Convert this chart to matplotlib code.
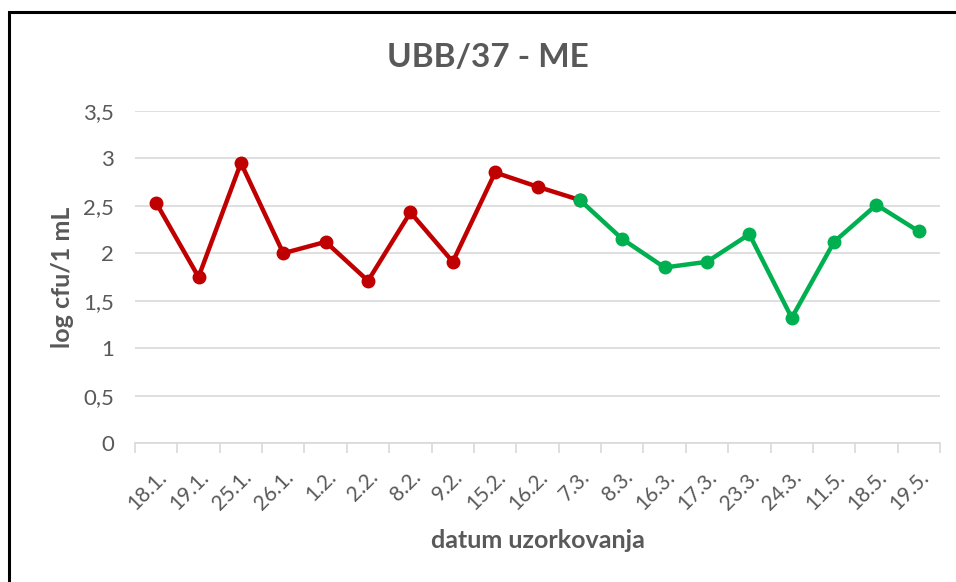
import numpy as np
import matplotlib
matplotlib.use('Agg')
import matplotlib.pyplot as plt
from matplotlib.patches import Rectangle

dates = ['18.1.', '19.1.', '25.1.', '26.1.', '1.2.', '2.2.', '8.2.', '9.2.', '15.2.', '16.2.',
         '7.3.', '8.3.', '16.3.', '17.3.', '23.3.', '24.3.', '11.5.', '18.5.', '19.5.']
red_vals = [2.53, 1.75, 2.95, 2.00, 2.12, 1.71, 2.43, 1.91, 2.85, 2.70, 2.56]
green_vals = [2.56, 2.15, 1.85, 1.91, 2.20, 1.32, 2.12, 2.51, 2.23]

plt.rcParams['font.family'] = ['Lato', 'DejaVu Sans']
grey = '#595959'

fig = plt.figure(figsize=(9.56, 5.82), dpi=100)
ax = fig.add_axes([0.1412, 0.2383, 0.8421, 0.5715])

x = np.arange(len(dates))
ax.plot(x[:len(red_vals)], red_vals, color='#C00000', lw=3.2, marker='o', ms=9, zorder=3)
ax.plot(x[len(red_vals) - 1:], green_vals, color='#00B050', lw=3.2, marker='o', ms=9, zorder=3)

ax.set_xlim(-0.5, len(dates) - 0.5)
ax.set_ylim(0, 3.5)
ax.set_yticks(np.arange(0, 3.51, 0.5))
ax.set_yticklabels(['0', '0,5', '1', '1,5', '2', '2,5', '3', '3,5'], fontsize=16, color=grey)
ax.yaxis.grid(True, color='#D9D9D9', lw=1.2)
ax.set_axisbelow(True)
ax.tick_params(axis='y', length=0, pad=15)

ax.set_xticks(x)
ax.set_xticklabels(dates, rotation=45, ha='right', va='top', rotation_mode='anchor',
                   fontsize=15, color=grey)
ax.set_xticks(np.arange(-0.5, len(dates), 1), minor=True)
ax.tick_params(axis='x', which='major', length=0, pad=17)
ax.tick_params(axis='x', which='minor', length=7, color='#D9D9D9', width=1.2)

for s in ['top', 'right', 'left']:
    ax.spines[s].set_visible(False)
ax.spines['bottom'].set_color('#D9D9D9')
ax.spines['bottom'].set_linewidth(1.2)

ax.set_ylabel('log cfu/1 mL', fontsize=18, fontweight='bold', color=grey, labelpad=7)
ax.set_xlabel('datum uzorkovanja', fontsize=18, fontweight='bold', color=grey, labelpad=11)
fig.text(0.510, 0.902, 'UBB/37 - ME', ha='center', va='center', fontsize=24,
         fontweight='bold', color=grey)

fig.patches.append(Rectangle((8.5 / 956, -0.1), 1.2, 1 - 11.5 / 582 + 0.1,
                             transform=fig.transFigure, fill=False, ec='black', lw=2.2))

fig.savefig('out.png', dpi=100)
